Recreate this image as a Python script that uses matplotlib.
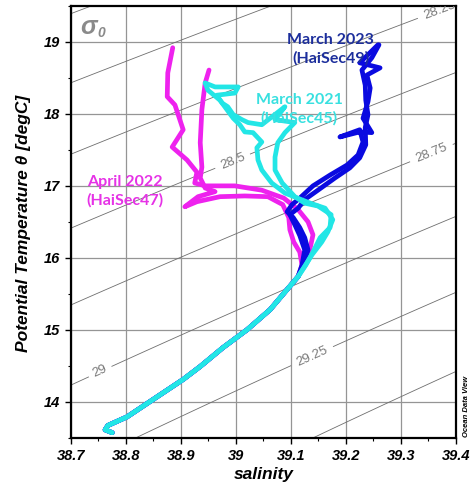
import numpy as np
import matplotlib
matplotlib.use("Agg")
import matplotlib.pyplot as plt
from matplotlib.ticker import MultipleLocator

# ---------------------------------------------------------------------------
# Theta-S profiles (salinity, potential temperature in degC)
# ---------------------------------------------------------------------------
# deep branch shared by all surveys
deep_sal = [38.775, 38.762, 38.767, 38.802, 38.849, 38.904, 38.935, 38.976,
            39.020, 39.062, 39.093, 39.113]
deep_temp = [13.57, 13.61, 13.67, 13.79, 14.03, 14.31, 14.49, 14.75,
             15.00, 15.28, 15.56, 15.74]

# April 2022 (HaiSec47) - upper water column, two casts
apr22_a_sal = [39.125, 39.135, 39.140, 39.131, 39.113, 39.087, 39.047, 38.998,
               38.944, 38.925, 38.929, 38.911, 38.884, 38.904, 38.889, 38.875,
               38.876, 38.885]
apr22_a_temp = [15.94, 16.14, 16.32, 16.50, 16.67, 16.83, 16.94, 17.00,
                17.00, 17.04, 17.19, 17.36, 17.54, 17.78, 18.125, 18.24,
                18.57, 18.92]
apr22_b_sal = [39.120, 39.116, 39.105, 39.098, 39.096, 39.085, 39.058, 39.016,
               38.971, 38.929, 38.907, 38.931, 38.962, 38.944, 38.935, 38.938,
               38.935, 38.938, 38.944, 38.951]
apr22_b_temp = [15.90, 16.08, 16.22, 16.39, 16.56, 16.74, 16.85, 16.86,
                16.85, 16.78, 16.71, 16.85, 16.92, 16.97, 17.11, 17.26,
                17.60, 18.06, 18.43, 18.61]

# March 2021 (HaiSec45)
mar21_a_sal = [39.127, 39.140, 39.153, 39.171, 39.173, 39.149, 39.125, 39.107,
               39.084, 39.071, 39.071, 39.076, 39.089, 39.107, 39.071, 39.089,
               39.047, 39.022, 39.011, 38.995, 38.985, 38.975, 38.965, 38.998,
               39.004, 38.962, 38.944]
mar21_a_temp = [15.90, 16.08, 16.28, 16.42, 16.60, 16.72, 16.76, 16.85,
                17.04, 17.22, 17.40, 17.60, 17.74, 17.88, 17.92, 18.10,
                17.85, 17.88, 17.92, 17.99, 18.10, 18.15, 18.26, 18.29,
                18.375, 18.375, 18.43]
mar21_b_sal = [39.138, 39.156, 39.167, 39.176, 39.162, 39.135, 39.089, 39.065,
               39.047, 39.040, 39.038, 39.047, 39.031, 39.016, 39.007, 38.995,
               38.971, 38.949, 38.944]
mar21_b_temp = [16.04, 16.22, 16.36, 16.53, 16.69, 16.76, 16.90, 17.04,
                17.22, 17.36, 17.53, 17.61, 17.74, 17.75, 17.85, 17.94,
                18.19, 18.33, 18.43]

# March 2023 (HaiSec49)
mar23_a_sal = [39.124, 39.131, 39.125, 39.116, 39.104, 39.093, 39.102, 39.116,
               39.140, 39.171, 39.202, 39.222, 39.231, 39.225, 39.189, 39.225,
               39.247, 39.231, 39.240, 39.244, 39.238, 39.262, 39.225, 39.258]
mar23_a_temp = [15.93, 16.11, 16.28, 16.42, 16.56, 16.64, 16.74, 16.83,
                17.00, 17.15, 17.29, 17.43, 17.61, 17.78, 17.68, 17.75,
                17.74, 17.94, 18.17, 18.36, 18.54, 18.64, 18.71, 18.96]
mar23_b_sal = [39.120, 39.125, 39.116, 39.107, 39.098, 39.113, 39.125, 39.149,
               39.180, 39.207, 39.225, 39.236, 39.235, 39.240, 39.236, 39.235,
               39.229, 39.247, 39.260]
mar23_b_temp = [15.90, 16.11, 16.31, 16.46, 16.60, 16.69, 16.81, 16.94,
                17.11, 17.25, 17.39, 17.57, 17.81, 17.99, 18.19, 18.40,
                18.61, 18.78, 18.96]

sal_ticks = [38.7, 38.8, 38.9, 39.0, 39.1, 39.2, 39.3, 39.4]
sal_ticklabels = ["38.7", "38.8", "38.9", "39", "39.1", "39.2", "39.3", "39.4"]
temp_ticks = [14, 15, 16, 17, 18, 19]

plain_levels = [27.5, 27.75, 28.0, 29.5, 29.75, 30.0]
labelled_levels = [28.25, 28.5, 28.75, 29.0, 29.25]
level_text = {28.25: "28.25", 28.5: "28.5", 28.75: "28.75", 29.0: "29", 29.25: "29.25"}

C_APR22 = "#ee22ee"
C_MAR21 = "#22e6e6"
C_MAR23 = "#0a0ae0"
T_APR22 = "#e632e6"
T_MAR21 = "#38e0e0"
T_MAR23 = "#1c2e9c"


def sigma0(s, t):
    """UNESCO EOS-80 density anomaly at the sea surface."""
    rw = (999.842594 + 6.793952e-2 * t - 9.095290e-3 * t**2 + 1.001685e-4 * t**3
          - 1.120083e-6 * t**4 + 6.536332e-9 * t**5)
    a = (0.824493 - 4.0899e-3 * t + 7.6438e-5 * t**2 - 8.2467e-7 * t**3
         + 5.3875e-9 * t**4)
    b = -5.72466e-3 + 1.0227e-4 * t - 1.6546e-6 * t**2
    c = 4.8314e-4
    return rw + a * s + b * s**1.5 + c * s**2 - 1000.0


FONT = "Liberation Sans"
fig = plt.figure(figsize=(4.71, 4.87), dpi=100)
ax = fig.add_axes([0.1507, 0.1012, 0.8174, 0.8865])
ax.set_xlim(38.7, 39.4)
ax.set_ylim(13.5, 19.5)

# grid
ax.set_xticks(sal_ticks)
ax.set_xticklabels(sal_ticklabels)
ax.set_yticks(temp_ticks)
ax.xaxis.set_minor_locator(MultipleLocator(0.05))
ax.yaxis.set_minor_locator(MultipleLocator(0.5))
ax.grid(True, which="major", color="#959595", linewidth=0.9, zorder=0)
ax.set_axisbelow(True)

# isopycnals
sg, tg = np.meshgrid(np.linspace(38.5, 39.6, 300), np.linspace(12.5, 20.5, 300))
sig = sigma0(sg, tg)
ax.contour(sg, tg, sig, levels=plain_levels, colors="#6e6e6e",
           linewidths=0.6, zorder=1)
cs = ax.contour(sg, tg, sig, levels=labelled_levels, colors="#6e6e6e",
                linewidths=0.6, zorder=1)
label_pos = [(39.37, 19.44), (38.993, 17.36), (39.353, 17.5),
             (38.753, 14.42), (39.135, 14.69)]
clbls = ax.clabel(cs, fmt=level_text, manual=label_pos, inline=True,
                  inline_spacing=4, fontsize=9.5, colors="#7a7a7a")
for t in clbls:
    t.set_fontfamily(FONT)
    t.set_clip_on(True)

lw = 3.4
kw = dict(linewidth=lw, solid_joinstyle="round", solid_capstyle="round")


def profile(up_s, up_t):
    return deep_sal + up_s, deep_temp + up_t


for s, t in (profile(apr22_a_sal, apr22_a_temp), profile(apr22_b_sal, apr22_b_temp)):
    ax.plot(s, t, color=C_APR22, zorder=3, **kw)
for s, t in (profile(mar23_a_sal, mar23_a_temp), profile(mar23_b_sal, mar23_b_temp)):
    ax.plot(s, t, color=C_MAR23, zorder=4, **kw)
for s, t in (profile(mar21_a_sal, mar21_a_temp), profile(mar21_b_sal, mar21_b_temp)):
    ax.plot(s, t, color=C_MAR21, zorder=5, **kw)

# cruise labels
lab_kw = dict(family="Lato", fontweight="bold", fontsize=11.5, ha="center",
              va="center", linespacing=1.35, transform=ax.transData, zorder=6)
ax.text(38.798, 16.93, "April 2022\n(HaiSec47)", color=T_APR22, **lab_kw)
ax.text(39.115, 18.07, "March 2021\n(HaiSec45)", color=T_MAR21, **lab_kw)
ax.text(39.172, 18.90, "March 2023\n(HaiSec49)", color=T_MAR23, **lab_kw)

# sigma-0 tag
fig.text(80 / 471, 1 - 34 / 487, "σ", family=FONT, fontweight="bold",
         fontstyle="italic", fontsize=18, color="#8a8a8a", ha="left", va="baseline")
fig.text(97 / 471, 1 - 37 / 487, "0", family=FONT, fontweight="bold",
         fontstyle="italic", fontsize=10, color="#8a8a8a", ha="left", va="baseline")

# axes styling
for sp in ax.spines.values():
    sp.set_linewidth(1.6)
    sp.set_color("black")
ax.tick_params(which="major", direction="out", length=4, width=1.0, pad=4,
               top=False, right=False)
ax.tick_params(which="minor", direction="out", length=2.5, width=0.8,
               top=False, right=False)
for lbl in ax.get_xticklabels() + ax.get_yticklabels():
    lbl.set_fontfamily(FONT)
    lbl.set_fontweight("bold")
    lbl.set_fontstyle("italic")
    lbl.set_fontsize(10.5)

ax.set_xlabel("salinity", family=FONT, fontweight="bold", fontstyle="italic",
              fontsize=12.5, va="center")
ax.xaxis.set_label_coords(0.5, -0.085)
ax.set_ylabel("Potential Temperature θ [degC]", family=FONT, fontweight="bold",
              fontstyle="italic", fontsize=12.5, va="center")
ax.yaxis.set_label_coords(-0.1234, 0.496)

fig.text(466 / 471, 1 - 437 / 487, "Ocean Data View", family=FONT,
         fontweight="bold", fontstyle="italic", fontsize=5.5, rotation=90,
         ha="center", va="bottom", color="black")

fig.savefig("out.png", dpi=100, facecolor="white")
